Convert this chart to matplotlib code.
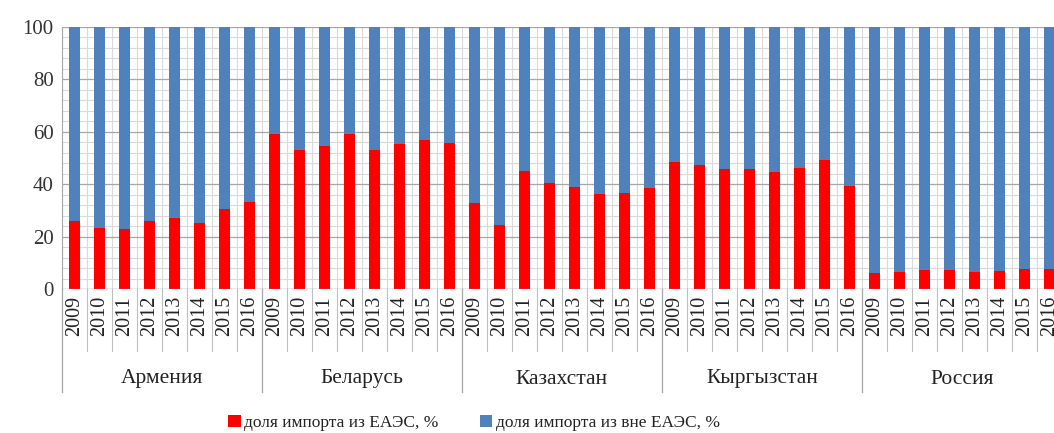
import matplotlib
matplotlib.use("Agg")
import matplotlib.pyplot as plt
from matplotlib.transforms import blended_transform_factory
from matplotlib.patches import Patch
import numpy as np

plt.rcParams['font.family'] = ['Liberation Serif', 'DejaVu Serif']

countries = ["Армения", "Беларусь", "Казахстан", "Кыргызстан", "Россия"]
years = ["2009", "2010", "2011", "2012", "2013", "2014", "2015", "2016"]

armenia = [25.9, 23.1, 22.8, 25.9, 27.0, 25.2, 30.7, 33.2]
belarus = [59.0, 53.0, 54.5, 59.2, 52.9, 55.2, 56.8, 55.9]
kazakhstan = [33.0, 24.6, 45.2, 40.6, 39.1, 36.3, 36.8, 38.5]
kyrgyzstan = [48.4, 47.5, 45.9, 45.9, 44.6, 46.1, 49.3, 39.4]
russia = [6.1, 6.5, 7.1, 7.4, 6.5, 6.9, 7.8, 7.8]

series_names = ["доля импорта из ЕАЭС, %", "доля импорта из вне ЕАЭС, %"]

eaeu = np.array(armenia + belarus + kazakhstan + kyrgyzstan + russia)
other = 100 - eaeu
n_years = len(years)
n = len(eaeu)
x = np.arange(n)

W, H = 1054, 433
fig = plt.figure(figsize=(W / 100, H / 100), dpi=100)
ax = fig.add_axes([62 / W, 1 - 289 / H, 1000 / W, 262 / H])

red = "#FF0000"
blue = "#4F81BD"
ax.bar(x, eaeu, width=0.44, color=red, zorder=3)
ax.bar(x, other, bottom=eaeu, width=0.44, color=blue, zorder=3)

ax.set_xlim(-0.5, n - 0.5)
ax.set_ylim(0, 100)
ax.set_yticks(np.arange(0, 101, 20))
ax.set_yticks(np.arange(0, 101, 4), minor=True)
ax.grid(axis='y', which='major', color="#A6A6A6", linewidth=0.9, zorder=0)
ax.grid(axis='y', which='minor', color="#D9D9D9", linewidth=0.8, zorder=0)
for xb in np.arange(-0.5, n, 1.0):
    ax.axvline(xb, color="#D9D9D9", linewidth=0.8, zorder=0)

for s in ['top', 'right', 'bottom']:
    ax.spines[s].set_visible(False)
ax.spines['left'].set_color("#A6A6A6")
ax.axhline(0, color="#A6A6A6", linewidth=0.9, zorder=4)

ax.set_xticks(x)
ax.set_xticklabels(years * len(countries), rotation=90, fontsize=14.5, color="#222222")
ax.tick_params(axis='x', length=0, pad=5)
ax.tick_params(axis='y', which='both', length=0, pad=6, labelsize=15, labelcolor="#333333")
ax.yaxis.set_tick_params(which='minor', length=0)

trans = blended_transform_factory(ax.transData, ax.transAxes)
short_y = -(351 - 289) / 262
long_y = -(392 - 289) / 262
for i in range(n + 1):
    xb = i - 0.5
    if i % n_years == 0:
        ax.plot([xb, xb], [0, long_y], transform=trans, color="#A6A6A6",
                linewidth=0.9, clip_on=False)
    else:
        ax.plot([xb, xb], [0, short_y], transform=trans, color="#BFBFBF",
                linewidth=0.8, clip_on=False)

for ci, c in enumerate(countries):
    cx = ci * n_years + (n_years - 1) / 2
    ax.text(cx, -(379 - 289) / 262, c, transform=trans, ha='center', va='center',
            fontsize=15.5, color="#222222")

handles = [Patch(facecolor=red), Patch(facecolor=blue)]
fig.legend(handles, series_names, loc='center', bbox_to_anchor=(474 / W, 1 - 423 / H),
           ncol=2, frameon=False, fontsize=12.5, handlelength=0.7, handleheight=0.7,
           handletextpad=0.2, columnspacing=2.4, labelcolor="#222222")

fig.savefig("out.png", dpi=100)
